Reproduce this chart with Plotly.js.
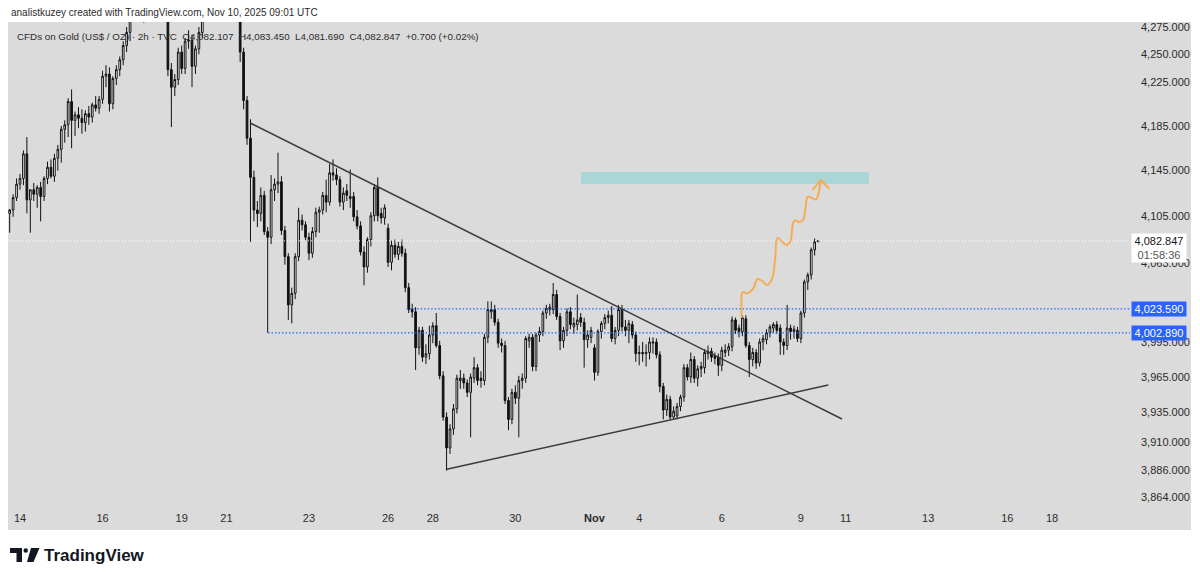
<!DOCTYPE html>
<html><head><meta charset="utf-8">
<script src="https://cdn.plot.ly/plotly-3.0.1.min.js"></script>
<style>html,body{margin:0;padding:0;background:#fff;} #chart{width:1200px;height:580px;}</style>
</head><body><div id="chart"></div>
<script>
// ---------- data (2h bars, bar 0 = Oct 14 00:00 UTC) ----------
const firstBar = -3;
const openP = [
4107,4110,4121,4133,4138,4160,4119,4128,4124,4130,
4122,4138,4148,4140,4156,4164,4182,4186,4207,4190,
4195,4192,4188,4196,4193,4204,4201,4209,4230,4232,
4205,4228,4236,4245,4258,4270,4295,4310,4318,4325,
4328,4340,4355,4370,4360,4330,4300,4236,4220,4227,
4252,4237,4262,4263,4239,4255,4270,4295,4315,4330,
4340,4355,4365,4360,4368,4350,4345,4310,4252,4208,
4174,4139,4110,4107,4123,4091,4086,4128,4133,4135,
4092,4069,4027,4037,4069,4101,4097,4086,4072,4091,
4108,4110,4123,4117,4143,4141,4137,4117,4127,4120,
4122,4104,4096,4073,4060,4084,4105,4130,4107,4103,
4094,4064,4079,4071,4078,4072,4042,4023,4021,3990,
4005,3982,3985,4001,4009,3992,3966,3931,3905,3921,
3938,3962,3964,3960,3952,3964,3973,3964,3962,3999,
4021,4023,4012,3994,3992,3945,3929,3952,3947,3962,
3964,3996,3999,3974,4001,4004,4020,4023,4023,4036,
4017,3996,4005,4021,4008,4010,4016,4012,3997,3999,
3990,3969,4004,4011,4016,4018,3998,4005,4023,4008,
4005,4010,4001,3985,3986,3985,3986,3994,3995,3984,
3957,3937,3946,3931,3932,3940,3948,3973,3965,3980,
3964,3972,3973,3985,3987,3983,3982,3975,3986,3988,
3991,4014,4007,4004,4015,3992,3980,3986,3977,3995,
3997,4003,4007,4010,4007,3995,3992,4007,4004,4005,
3998,4020,4047,4053,4075,4082.107];
const highP = [
4111,4124,4138,4142,4163,4175,4128,4134,4132,4135,
4140,4153,4155,4160,4168,4185,4190,4210,4218,4198,
4202,4200,4199,4203,4206,4212,4212,4235,4240,4238,
4230,4240,4248,4262,4275,4300,4315,4325,4330,4335,
4345,4360,4375,4381,4368,4340,4310,4242,4232,4256,
4258,4265,4272,4268,4258,4275,4300,4320,4335,4345,
4360,4370,4381,4375,4372,4360,4350,4318,4256,4212,
4191,4145,4118,4130,4127,4095,4141,4138,4161,4140,
4096,4072,4042,4072,4112,4106,4100,4090,4095,4112,
4113,4126,4137,4151,4155,4147,4140,4130,4133,4146,
4126,4110,4100,4078,4086,4108,4133,4139,4112,4115,
4098,4083,4084,4082,4084,4076,4046,4028,4025,4008,
4008,3993,4009,4012,4020,3996,3970,3935,3925,3942,
3967,3971,3968,3963,3968,3982,3976,3970,4002,4030,
4030,4027,4015,3998,3996,3948,3955,3958,3966,3968,
4000,4002,4002,4003,4008,4022,4027,4028,4046,4040,
4020,4008,4024,4025,4016,4036,4020,4016,4005,4008,
3993,4006,4013,4019,4022,4026,4008,4027,4027,4014,
4014,4013,4004,3992,3995,3993,3999,3999,3998,3987,
3960,3950,3949,3940,3943,3950,3976,3976,3986,3983,
3975,3978,3989,3992,3990,3986,3985,3991,3993,3994,
4017,4016,4010,4018,4018,3995,3990,3989,3998,4001,
4006,4010,4012,4013,4010,3998,4027,4010,4009,4008,
4022,4049,4055,4077,4085,4083.45];
const lowP = [
4090,4104,4118,4128,4132,4107,4090,4118,4112,4100,
4118,4133,4138,4135,4145,4152,4170,4175,4165,4176,
4183,4178,4180,4186,4188,4198,4196,4205,4220,4198,
4200,4222,4230,4240,4252,4262,4285,4300,4290,4279,
4320,4335,4345,4350,4320,4285,4230,4184,4212,4222,
4232,4232,4255,4220,4232,4250,4265,4288,4305,4320,
4335,4345,4355,4350,4340,4330,4300,4243,4200,4168,
4082,4100,4095,4100,4088,4003,4080,4118,4125,4088,
4062,4014,4011,4032,4065,4092,4083,4066,4068,4086,
4090,4106,4108,4114,4136,4132,4113,4110,4118,4112,
4100,4093,4070,4044,4055,4078,4100,4100,4098,4097,
4060,4057,4068,4066,4069,4038,4020,4016,3971,3984,
3978,3976,3980,3994,3990,3963,3928,3886,3900,3916,
3934,3955,3955,3948,3914,3960,3958,3956,3958,3994,
4015,4009,3990,3986,3942,3920,3925,3942,3914,3955,
3960,3990,3970,3970,3995,4000,4015,4018,4019,4014,
3988,3990,4000,4006,4002,4005,4008,3973,3990,3994,
3962,3966,3998,4006,4011,3995,3993,4000,4004,4000,
3994,3998,3978,3975,3978,3974,3980,3985,3981,3952,
3929,3932,3929,3929,3929,3936,3944,3962,3960,3960,
3957,3965,3968,3980,3978,3976,3966,3970,3982,3983,
3987,4002,3999,4000,3990,3965,3974,3972,3974,3988,
3993,3999,4003,4002,3984,3984,3988,3997,3998,3995,
3994,4016,4040,4049,4070,4081.69];
const closeP = [
4110,4121,4133,4138,4160,4119,4128,4124,4130,4122,
4138,4148,4140,4156,4164,4182,4186,4207,4190,4195,
4192,4188,4196,4193,4204,4201,4209,4230,4232,4205,
4228,4236,4245,4258,4270,4295,4310,4318,4325,4328,
4340,4355,4370,4360,4330,4300,4236,4220,4227,4252,
4237,4262,4263,4239,4255,4270,4295,4315,4330,4340,
4355,4365,4360,4368,4350,4345,4310,4252,4208,4174,
4139,4110,4107,4123,4091,4086,4128,4133,4135,4092,
4069,4027,4037,4069,4101,4097,4086,4072,4091,4108,
4110,4123,4117,4143,4141,4137,4117,4125,4123,4122,
4104,4096,4073,4060,4084,4105,4130,4105,4103,4112,
4064,4079,4071,4078,4072,4042,4023,4021,3990,4005,
3982,3985,4001,4009,3992,3966,3931,3905,3921,3938,
3964,3964,3960,3952,3965,3973,3962,3962,3999,4023,
4023,4012,3994,3992,3945,3929,3952,3947,3962,3964,
3998,3999,3974,4001,4004,4020,4024,4025,4036,4017,
3996,4005,4021,4010,4011,4014,4012,3997,4001,4005,
3969,4004,4011,4016,4018,3998,4005,4023,4008,4005,
4011,4001,3985,3986,3985,3986,3995,3995,3984,3957,
3937,3946,3931,3936,3940,3948,3973,3965,3980,3964,
3972,3974,3986,3987,3982,3981,3975,3988,3988,3991,
4014,4005,4004,4016,3992,3980,3986,3977,3995,3998,
4003,4008,4010,4005,3995,3992,4007,4004,4006,3998,
4020,4047,4053,4075,4082,4082.847];

const tickBars   = [0,24,47,60,84,107,120,144,167,180,204,227,240,264,287,300];
const tickLabels = ['14','16','19','21','23','26','28','30','<b>Nov</b>','4','6','9','11','13','16','18'];
const priceTicks = [4275,4250,4225,4185,4145,4105,4063,3995,3965,3935,3910,3886,3864];

const lastPrice = 4082.847;
const countdown = '01:58:36';
const levels = [4023.59, 4002.89];
const levelStartBars = [112.4, 72.1];

const descTrendBars = [67.06, 238.95], descTrendPrices = [4187.4, 3929.4];
const ascTrendBars  = [124.04, 234.97], ascTrendPrices = [3887.1, 3958.2];
const targetBars = [163.1, 246.8], targetPrices = [4133.1, 4143.8];
const waveBars = [209.80,209.71,210.03,211.34,213.08,214.39,215.70,217.15,218.60,219.48,220.20,221.37,222.82,223.98,224.56,225.15,226.45,227.62,228.34,228.92,229.94,231.40,232.27,232.76];
const wavePrices = [4015.7,4031.2,4038.2,4036.9,4040.8,4049.5,4047.8,4044.3,4049.5,4066.1,4085.4,4082.7,4079.2,4082.7,4095.9,4100.8,4099.4,4101.2,4111.8,4121.5,4121.1,4119.3,4126.9,4135.7];
const arrowBars = [230.38, 232.76, 235.32], arrowPrices = [4127.7, 4136.6, 4128.6];

const headerText = 'analistkuzey created with TradingView.com, Nov 10, 2025 09:01 UTC';
const legendText = 'CFDs on Gold (US$ / OZ) · 2h · TVC\u00a0\u00a0O4,082.107\u00a0\u00a0H4,083.450\u00a0\u00a0L4,081.690\u00a0\u00a0C4,082.847\u00a0\u00a0+0.700 (+0.02%)';

// ---------- geometry ----------
const W = 1200, H = 580, ML = 8, MR = 70, MT = 22, MB = 74;
const PW = W - ML - MR, PH = H - MT - MB;
const px2x = px => (px - ML) / PW;
const px2y = py => (H - MB - py) / PH;
const xMin = -3.488, xMax = 322.67;
const yRange = [3.586199, 3.631403];
const FONT = 'Liberation Sans, Arial, sans-serif';
const fmt = v => v.toLocaleString('en-US', {minimumFractionDigits: 3, maximumFractionDigits: 3});

const bars = openP.map((_, i) => firstBar + i);

const traces = [];
// target zone
traces.push({x:[targetBars[0],targetBars[1],targetBars[1],targetBars[0],targetBars[0]],
  y:[targetPrices[0],targetPrices[0],targetPrices[1],targetPrices[1],targetPrices[0]],
  mode:'lines', fill:'toself', fillcolor:'#abd6d6', line:{width:0}, hoverinfo:'skip'});
// current price line
traces.push({x:[xMin,xMax], y:[lastPrice,lastPrice], mode:'lines',
  line:{color:'rgba(255,255,255,0.95)', width:1, dash:'1px,2px'}, hoverinfo:'skip'});
// horizontal levels
levels.forEach((lv, i) => traces.push({x:[levelStartBars[i], xMax], y:[lv, lv], mode:'lines',
  line:{color:'#2962ff', width:1.2, dash:'1.5px,2px'}, hoverinfo:'skip'}));
// trend lines
traces.push({x:descTrendBars, y:descTrendPrices, mode:'lines', line:{color:'#3b3b3b', width:1.5}, hoverinfo:'skip'});
traces.push({x:ascTrendBars, y:ascTrendPrices, mode:'lines', line:{color:'#3b3b3b', width:1.5}, hoverinfo:'skip'});
// candles
traces.push({type:'candlestick', x:bars, open:openP, high:highP, low:lowP, close:closeP,
  increasing:{line:{color:'#111', width:1}, fillcolor:'#ffffff'},
  decreasing:{line:{color:'#111', width:1}, fillcolor:'#111111'},
  whiskerwidth:0, hoverinfo:'skip'});
// wave projection
traces.push({x:waveBars, y:wavePrices, mode:'lines', line:{color:'#f3ad58', width:2, shape:'spline', smoothing:1}, hoverinfo:'skip'});
traces.push({x:arrowBars, y:arrowPrices, mode:'lines', line:{color:'#f3ad58', width:2}, hoverinfo:'skip'});

// logo path helper (decoration, pixel coords -> paper)
const P = pts => 'M' + pts.map(p => px2x(p[0]).toFixed(5) + ',' + px2y(p[1]).toFixed(5)).join(' L') + ' Z';
const shapes = [
  {type:'rect', xref:'paper', yref:'paper', x0:0, x1:px2x(1191), y0:px2y(530), y1:1,
   fillcolor:'#dbdbdb', line:{width:0}, layer:'below'},
  {type:'path', xref:'paper', yref:'paper', path:P([[10,548],[22,548],[22,562],[16.5,562],[16.5,553],[10,553]]),
   fillcolor:'#131722', line:{width:0}},
  {type:'circle', xref:'paper', yref:'paper', x0:px2x(23.5), x1:px2x(28), y0:px2y(548.2), y1:px2y(552.7),
   fillcolor:'#131722', line:{width:0}},
  {type:'path', xref:'paper', yref:'paper', path:P([[31,548],[39.5,548],[33.5,562],[27,562]]),
   fillcolor:'#131722', line:{width:0}}
];

const annotations = [
  {xref:'paper', yref:'paper', x:px2x(9), y:px2y(12.5), xanchor:'left', yanchor:'middle', showarrow:false,
   text:headerText, font:{family:FONT, size:10, color:'#2b2b2b'}},
  {xref:'paper', yref:'paper', x:px2x(15), y:px2y(36), xanchor:'left', yanchor:'middle', showarrow:false,
   text:legendText, font:{family:FONT, size:9.8, color:'#2b2b2b'}},
  {xref:'paper', yref:'paper', x:px2x(42), y:px2y(555.5), xanchor:'left', yanchor:'middle', showarrow:false,
   text:'<b>TradingView</b>', font:{family:FONT, size:17, color:'#131722'}},
  {xref:'paper', yref:'y', x:1 + 1.5/PW, y:Math.log10(lastPrice), xanchor:'left', yanchor:'top', yshift:7.5,
   showarrow:false, width:52, align:'center', bgcolor:'#ffffff', borderpad:1,
   text:fmt(lastPrice) + '<br><span style="color:#555">' + countdown + '</span>',
   font:{family:FONT, size:11, color:'#131722'}}
];
levels.forEach(lv => annotations.push({xref:'paper', yref:'y', x:1 + 1.5/PW, y:Math.log10(lv),
  xanchor:'left', yanchor:'middle', showarrow:false, width:52, height:12, align:'center',
  bgcolor:'#2962ff', borderpad:1, text:fmt(lv), font:{family:FONT, size:11, color:'#ffffff'}}));

const layout = {
  width:W, height:H, margin:{l:ML, r:MR, t:MT, b:MB, pad:0},
  paper_bgcolor:'#ffffff', plot_bgcolor:'rgba(0,0,0,0)', showlegend:false,
  xaxis:{type:'linear', range:[xMin, xMax], tickmode:'array', tickvals:tickBars, ticktext:tickLabels,
    showgrid:false, zeroline:false, showline:false, ticks:'', ticklabelstandoff:4,
    tickfont:{family:FONT, size:11, color:'#2b2b2b'}, rangeslider:{visible:false}, fixedrange:true},
  yaxis:{type:'log', side:'right', range:yRange, tickmode:'array', tickvals:priceTicks,
    ticktext:priceTicks.map(fmt), showgrid:false, zeroline:false, showline:false, ticks:'',
    ticklabelstandoff:10, tickfont:{family:FONT, size:11, color:'#2b2b2b'}, fixedrange:true},
  shapes:shapes, annotations:annotations, hovermode:false
};
Plotly.newPlot('chart', traces, layout, {displayModeBar:false, staticPlot:true});
</script></body></html>
